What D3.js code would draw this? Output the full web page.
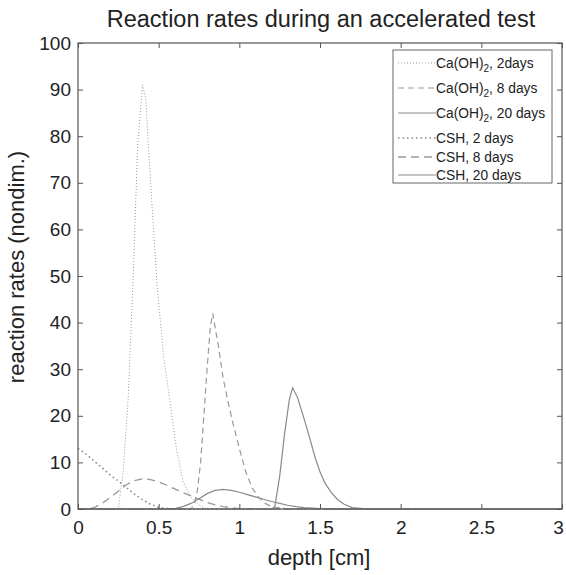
<!DOCTYPE html>
<html>
<head>
<meta charset="utf-8">
<script src="https://cdn.jsdelivr.net/npm/d3@7"></script>
<style>
  body { margin: 0; background: #fff; }
  text { font-family: "Liberation Sans", Arial, sans-serif; fill: #222; }
</style>
</head>
<body>
<svg width="566" height="575"></svg>
<script>
// depth [cm] and rate values
var caDepth2  = [0, 0.25, 0.28, 0.31, 0.34, 0.37, 0.40, 0.42, 0.45, 0.49, 0.53, 0.57, 0.61, 0.65, 0.70, 0.75, 0.80, 3];
var caRate2   = [0, 0, 8, 23, 48, 78, 91, 88, 70, 48, 33, 23, 13, 6, 2.5, 0.8, 0, 0];

var caDepth8  = [0, 0.70, 0.72, 0.74, 0.76, 0.78, 0.80, 0.82, 0.835, 0.85, 0.87, 0.90, 0.93, 0.96, 1.00, 1.04, 1.08, 1.12, 1.16, 1.20, 1.30, 3];
var caRate8   = [0, 0, 1, 4, 10, 20, 30, 39, 42, 39, 35, 28, 23, 18.5, 13, 8, 4.5, 2.5, 1.2, 0.5, 0, 0];

var caDepth20 = [0, 1.20, 1.22, 1.25, 1.28, 1.31, 1.33, 1.36, 1.40, 1.43, 1.47, 1.50, 1.53, 1.57, 1.61, 1.65, 1.70, 1.80, 3];
var caRate20  = [0, 0, 0.5, 7, 16, 23.5, 26, 24, 19.5, 16, 11, 8, 5.6, 3.5, 2, 1, 0.3, 0, 0];

var cshDepth2  = [0, 0.05, 0.10, 0.15, 0.20, 0.25, 0.30, 0.35, 0.40, 0.45, 0.50, 0.55, 0.60, 3];
var cshRate2   = [13, 11.8, 10.3, 8.8, 7.3, 6, 4.6, 3.2, 2, 1, 0.4, 0.1, 0, 0];

var cshDepth8  = [0, 0.05, 0.10, 0.15, 0.20, 0.25, 0.30, 0.35, 0.40, 0.45, 0.50, 0.55, 0.60, 0.65, 0.70, 0.75, 0.80, 0.85, 0.90, 1.00, 1.10, 3];
var cshRate8   = [0, 0, 0.3, 1.2, 2.5, 3.8, 5.2, 6.1, 6.5, 6.3, 5.8, 5.1, 4.3, 3.5, 2.8, 2.1, 1.4, 0.9, 0.5, 0.1, 0, 0];

var cshDepth20 = [0, 0.55, 0.60, 0.65, 0.70, 0.75, 0.80, 0.85, 0.90, 0.95, 1.00, 1.05, 1.10, 1.15, 1.20, 1.25, 1.30, 1.35, 1.40, 1.50, 1.60, 3];
var cshRate20  = [0, 0, 0.1, 0.5, 1.2, 2.2, 3.3, 4.0, 4.2, 4.0, 3.6, 3.1, 2.6, 2.1, 1.6, 1.2, 0.8, 0.5, 0.3, 0.1, 0, 0];

var seriesNames = ["Ca(OH)2, 2days", "Ca(OH)2, 8 days", "Ca(OH)2, 20 days", "CSH, 2 days", "CSH, 8 days", "CSH, 20 days"];
var xTicks = [0, 0.5, 1, 1.5, 2, 2.5, 3];
var yTicks = [0, 10, 20, 30, 40, 50, 60, 70, 80, 90, 100];

var series = [
  {name: seriesNames[0], x: caDepth2,   y: caRate2,   dash: "1,2",   w: 1,   c: "#9a9a9a"},
  {name: seriesNames[1], x: caDepth8,   y: caRate8,   dash: "6,4",   w: 1.2, c: "#9a9a9a"},
  {name: seriesNames[2], x: caDepth20,  y: caRate20,  dash: null,    w: 1.2, c: "#8a8a8a"},
  {name: seriesNames[3], x: cshDepth2,  y: cshRate2,  dash: "1.5,3", w: 1.6, c: "#888"},
  {name: seriesNames[4], x: cshDepth8,  y: cshRate8,  dash: "8,5",   w: 1.3, c: "#999"},
  {name: seriesNames[5], x: cshDepth20, y: cshRate20, dash: null,    w: 1.2, c: "#8a8a8a"}
];

var svg = d3.select("svg"),
    margin = {top: 43, right: 4, bottom: 66, left: 78},
    width = +svg.attr("width") - margin.left - margin.right,
    height = +svg.attr("height") - margin.top - margin.bottom,
    g = svg.append("g").attr("transform", "translate(" + margin.left + "," + margin.top + ")");

var x = d3.scaleLinear().domain([0, 3]).range([0, width]);
var y = d3.scaleLinear().domain([0, 100]).range([height, 0]);

var line = d3.line()
    .x(function(d) { return x(d[0]); })
    .y(function(d) { return y(d[1]); });

// curves
series.forEach(function(s) {
  g.append("path")
      .datum(d3.zip(s.x, s.y))
      .attr("fill", "none")
      .attr("stroke", s.c)
      .attr("stroke-width", s.w)
      .attr("stroke-dasharray", s.dash)
      .attr("d", line);
});

// axes, matlab-style box with inner ticks
function styleAxis(sel) {
  sel.select(".domain").remove();
  sel.selectAll("line").attr("stroke", "#555");
  sel.selectAll("text").style("font-size", "19px").attr("fill", "#222");
}

g.append("g")
    .attr("transform", "translate(0," + height + ")")
    .call(d3.axisBottom(x).tickValues(xTicks).tickFormat(d3.format("")).tickSizeInner(-5).tickPadding(12))
    .call(styleAxis)
    .selectAll("text")
      .attr("dx", function(d) { return d === 3 ? -4 : 0; });  // keep last label inside the window

g.append("g")
    .call(d3.axisLeft(y).tickValues(yTicks).tickSizeInner(-5).tickPadding(7))
    .call(styleAxis);

g.append("g")
    .call(d3.axisTop(x).tickValues(xTicks).tickSizeInner(-5).tickFormat(""))
    .call(styleAxis);

g.append("g")
    .attr("transform", "translate(" + width + ",0)")
    .call(d3.axisRight(y).tickValues(yTicks).tickSizeInner(-5).tickFormat(""))
    .call(styleAxis);

g.append("rect")
    .attr("width", width)
    .attr("height", height)
    .attr("fill", "none")
    .attr("stroke", "#555")
    .attr("stroke-width", 1.2);

// legend
var legend = g.append("g").attr("transform", "translate(" + (393 - margin.left) + "," + (50 - margin.top) + ")");
legend.append("rect")
    .attr("width", 159)
    .attr("height", 133)
    .attr("fill", "#fff")
    .attr("stroke", "#666");

var legendY = [13, 38, 63, 88, 107, 125];
series.forEach(function(s, i) {
  var row = legend.append("g").attr("transform", "translate(0," + legendY[i] + ")");
  row.append("line")
      .attr("x1", 5).attr("x2", 43)
      .attr("stroke", s.c)
      .attr("stroke-width", s.w)
      .attr("stroke-dasharray", s.dash);
  var t = row.append("text")
      .attr("x", 43)
      .attr("dy", "0.35em")
      .style("font-size", "13.8px");
  var m = s.name.match(/^(Ca\(OH\))2(.*)$/);
  if (m) {
    t.append("tspan").text(m[1]);
    t.append("tspan").attr("dy", 4).style("font-size", "10px").text("2");
    t.append("tspan").attr("dy", -4).text(m[2]);
  } else {
    t.text(s.name);
  }
});

// titles
svg.append("text")
    .attr("x", 321)
    .attr("y", 27)
    .attr("text-anchor", "middle")
    .style("font-size", "23.5px")
    .text("Reaction rates during an accelerated test");

svg.append("text")
    .attr("x", 319)
    .attr("y", 565)
    .attr("text-anchor", "middle")
    .style("font-size", "22px")
    .text("depth [cm]");

svg.append("text")
    .attr("transform", "translate(24,267) rotate(-90)")
    .attr("text-anchor", "middle")
    .style("font-size", "22px")
    .text("reaction rates (nondim.)");
</script>
</body>
</html>
